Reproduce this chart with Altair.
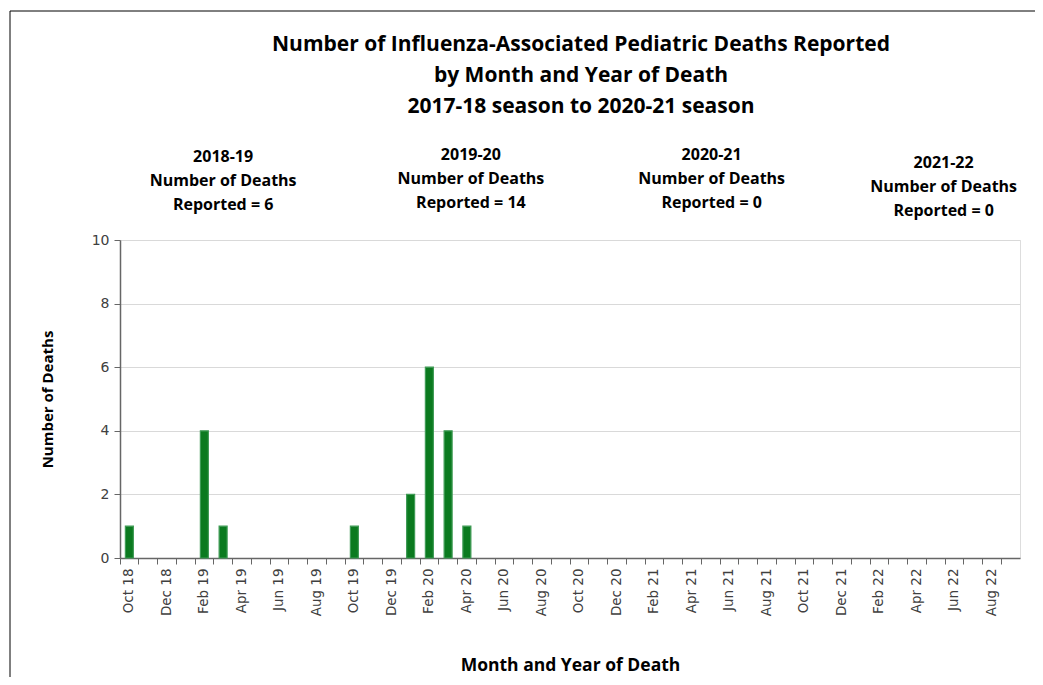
import altair as alt
import pandas as pd

months = [
    "Oct 18", "Nov 18", "Dec 18", "Jan 19", "Feb 19", "Mar 19", "Apr 19", "May 19",
    "Jun 19", "Jul 19", "Aug 19", "Sep 19", "Oct 19", "Nov 19", "Dec 19", "Jan 20",
    "Feb 20", "Mar 20", "Apr 20", "May 20", "Jun 20", "Jul 20", "Aug 20", "Sep 20",
    "Oct 20", "Nov 20", "Dec 20", "Jan 21", "Feb 21", "Mar 21", "Apr 21", "May 21",
    "Jun 21", "Jul 21", "Aug 21", "Sep 21", "Oct 21", "Nov 21", "Dec 21", "Jan 22",
    "Feb 22", "Mar 22", "Apr 22", "May 22", "Jun 22", "Jul 22", "Aug 22", "Sep 22",
]
deaths = [
    1, 0, 0, 0, 4, 1, 0, 0,
    0, 0, 0, 0, 1, 0, 0, 2,
    6, 4, 1, 0, 0, 0, 0, 0,
    0, 0, 0, 0, 0, 0, 0, 0,
    0, 0, 0, 0, 0, 0, 0, 0,
    0, 0, 0, 0, 0, 0, 0, 0,
]

seasons = ["2018-19", "2019-20", "2020-21", "2021-22"]
season_totals = [6, 14, 0, 0]
season_anchor = ["Mar 19", "Apr 20", "May 21", "May 22"]
season_y = [12.61, 12.67, 12.67, 12.42]
season_dx = [0, 4, 1, 8]

title_lines = [
    "Number of Influenza-Associated  Pediatric Deaths Reported",
    "by Month and Year of Death",
    "2017-18 season  to 2020-21 season",
]

df = pd.DataFrame({"month": months, "deaths": deaths})

TITLE_FONT = "Open Sans"
TICK_FONT = "DejaVu Sans"

xscale = alt.Scale(domain=months, paddingInner=0, paddingOuter=0)
yscale = alt.Scale(domain=[0, 10])

bars = alt.Chart(df).transform_filter("datum.deaths > 0").mark_bar(
    size=8, color="#0b7a1f", stroke="#3f9b55", strokeWidth=1.2
).encode(
    x=alt.X(
        "month:N",
        scale=xscale,
        sort=months,
        axis=alt.Axis(
            title="Month and Year of Death",
            bandPosition=0,
            labelAngle=-90,
            labelAlign="right",
            labelBaseline="middle",
            labelFont=TICK_FONT,
            labelFontSize=13.5,
            labelColor="#404040",
            labelPadding=4,
            labelExpr="test(/^(Oct|Dec|Feb|Apr|Jun|Aug)/, datum.value) ? datum.value : ''",
            tickSize=6,
            tickColor="#666666",
            domainColor="#666666",
            domainWidth=1.5,
            grid=False,
            titleFont=TITLE_FONT,
            titleFontSize=17.5,
            titleFontWeight="bold",
            titleColor="#000000",
            titleY=107,
            titleBaseline="middle",
        ),
    ),
    y=alt.Y(
        "deaths:Q",
        scale=yscale,
        axis=alt.Axis(
            title="Number of Deaths",
            values=list(range(0, 11)),
            labelExpr="datum.value % 2 == 0 ? datum.label : ''",
            labelFont=TICK_FONT,
            labelFontSize=14,
            labelColor="#404040",
            labelPadding=5,
            tickSize=6,
            tickColor="#666666",
            domainColor="#666666",
            domainWidth=1.5,
            gridColor="#d9d9d9",
            gridWidth=1,
            titleFont=TITLE_FONT,
            titleFontSize=15,
            titleFontWeight="bold",
            titleColor="#000000",
            titlePadding=36,
        ),
    ),
)

layers = [bars]
for name, tot, anc, yy, dx in zip(seasons, season_totals, season_anchor, season_y, season_dx):
    ann = pd.DataFrame({
        "month": [anc],
        "y": [yy],
        "label": [f"{name}\nNumber of Deaths\nReported = {tot}"],
    })
    layers.append(
        alt.Chart(ann).mark_text(
            font=TITLE_FONT, fontSize=16, fontWeight="bold", color="#000000",
            lineBreak="\n", lineHeight=24, baseline="middle", align="center",
            dx=dx, clip=False,
        ).encode(
            x=alt.X("month:N", scale=xscale, sort=months),
            y=alt.Y("y:Q", scale=yscale),
            text="label:N",
        )
    )

frame_src = pd.DataFrame({"a": [0]})
top_line = alt.Chart(frame_src).mark_rule(color="#000000", strokeWidth=1, clip=False).encode(
    x=alt.value(-110), x2=alt.value(1000), y=alt.value(-229)
)
left_line = alt.Chart(frame_src).mark_rule(color="#000000", strokeWidth=1, clip=False).encode(
    x=alt.value(-110), y=alt.value(-229), y2=alt.value(500)
)
layers += [top_line, left_line]

chart = alt.layer(*layers).properties(
    width=900,
    height=318,
    autosize=alt.AutoSizeParams(type="none"),
    padding={"left": 112, "top": 232, "right": 15, "bottom": 119},
    title=alt.TitleParams(
        text=title_lines,
        font=TITLE_FONT,
        fontSize=21,
        fontWeight="bold",
        color="#000000",
        lineHeight=31,
        anchor="middle",
        dx=11,
        offset=-106,
    ),
).configure_view(stroke=None).configure(background="white")

chart.save("out.html", embed_options={"renderer": "svg", "actions": False})
